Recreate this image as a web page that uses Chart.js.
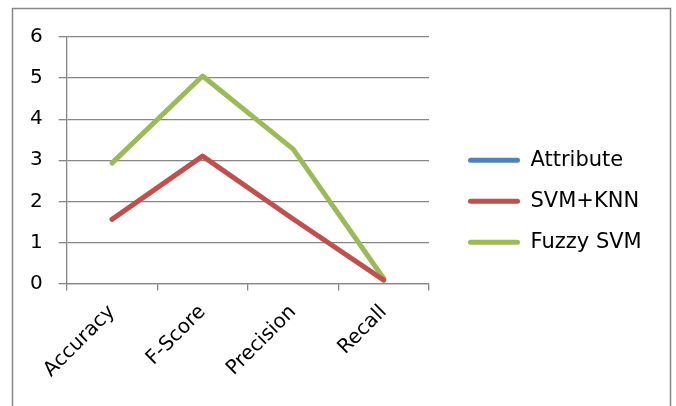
<!DOCTYPE html>
<html>
<head>
<meta charset="utf-8">
<script src="https://cdn.jsdelivr.net/npm/chart.js@4"></script>
<style>
  html, body { margin: 0; padding: 0; background: #fff; }
  #wrap { width: 676px; height: 406px; }
</style>
</head>
<body>
<div id="wrap"><canvas id="myChart" width="676" height="406"></canvas></div>
<script>
// categories and series
var categories = ['Accuracy', 'F-Score', 'Precision', 'Recall'];
var attribute = [null, null, null, null];
var svmKnn = [1.56, 3.1, 1.57, 0.08];
var fuzzySvm = [2.93, 5.05, 3.27, 0.12];
var yTicks = [0, 1, 2, 3, 4, 5, 6];

var gridColor = '#868686';
var font = { family: 'DejaVu Sans', size: 20 };
var legendWidth = 218;

// outer frame of the chart object
var frame = {
    id: 'frame',
    beforeDraw: function (chart) {
        let ctx = chart.ctx;
        ctx.save();
        ctx.fillStyle = '#fff';
        ctx.fillRect(0, 0, chart.width, chart.height);
        ctx.strokeStyle = gridColor;
        ctx.lineWidth = 1.5;
        ctx.strokeRect(12.5, 8.5, 658, 430);
        ctx.restore();
    }
};

// the legend would otherwise be squeezed to a quarter of the width
var wideLegend = {
    id: 'wideLegend',
    afterInit: function (chart) {
        let lg = chart.legend;
        let fit = lg.fit;
        lg.fit = function () {
            fit.call(this);
            this.width = legendWidth;
        };
    }
};

function lineSet(label, data, color) {
    return {
        label: label,
        data: data,
        borderColor: color,
        backgroundColor: color,
        borderWidth: 5,
        borderCapStyle: 'round',
        borderJoinStyle: 'round',
        pointRadius: 0,
        tension: 0
    };
}

let ctx = document.getElementById('myChart').getContext('2d');
let chart = new Chart(ctx, {
    type: 'line',
    data: {
        labels: categories,
        datasets: [
            lineSet('Attribute', attribute, '#4F81BD'),
            lineSet('SVM+KNN', svmKnn, '#C0504D'),
            lineSet('Fuzzy SVM', fuzzySvm, '#9BBB59')
        ]
    },
    options: {
        responsive: false,
        animation: false,
        layout: { padding: { left: 14, top: 37, right: 10, bottom: 14 } },
        plugins: {
            tooltip: { enabled: false },
            legend: {
                position: 'right',
                fullSize: false,
                // empty title only pushes the items down to where they sit
                title: {
                    display: true,
                    text: ' ',
                    font: { size: 10 },
                    padding: { top: 70, bottom: 0 }
                },
                labels: {
                    color: '#000',
                    font: { family: 'DejaVu Sans', size: 21 },
                    boxWidth: 52,
                    boxHeight: 5,
                    padding: 20,
                    useBorderRadius: true,
                    borderRadius: 2.5,
                    generateLabels: function (c) {
                        let items = Chart.defaults.plugins.legend.labels.generateLabels(c);
                        items.forEach(function (it) {
                            it.fillStyle = it.strokeStyle;
                            it.lineWidth = 0;
                        });
                        return items;
                    }
                }
            }
        },
        scales: {
            x: {
                offset: true,
                grid: {
                    offset: true,
                    drawOnChartArea: false,
                    drawTicks: true,
                    tickLength: 7,
                    color: gridColor,
                    lineWidth: 1.3
                },
                border: { color: gridColor, width: 1.3 },
                ticks: {
                    color: '#000',
                    font: font,
                    minRotation: 45,
                    maxRotation: 45,
                    padding: 10
                }
            },
            y: {
                min: 0,
                max: 6,
                afterBuildTicks: function (s) {
                    s.ticks = yTicks.map(function (v) { return { value: v }; });
                },
                grid: {
                    color: gridColor,
                    lineWidth: 1.3,
                    drawTicks: true,
                    tickLength: 8
                },
                border: { color: gridColor, width: 1.3 },
                ticks: {
                    color: '#000',
                    font: font,
                    padding: 16
                }
            },
            gap: {
                position: 'right',
                display: true,
                grid: { display: false },
                border: { display: false },
                ticks: { display: false },
                afterFit: function (s) { s.width = 19; }
            }
        }
    },
    plugins: [frame, wideLegend]
});
</script>
</body>
</html>
